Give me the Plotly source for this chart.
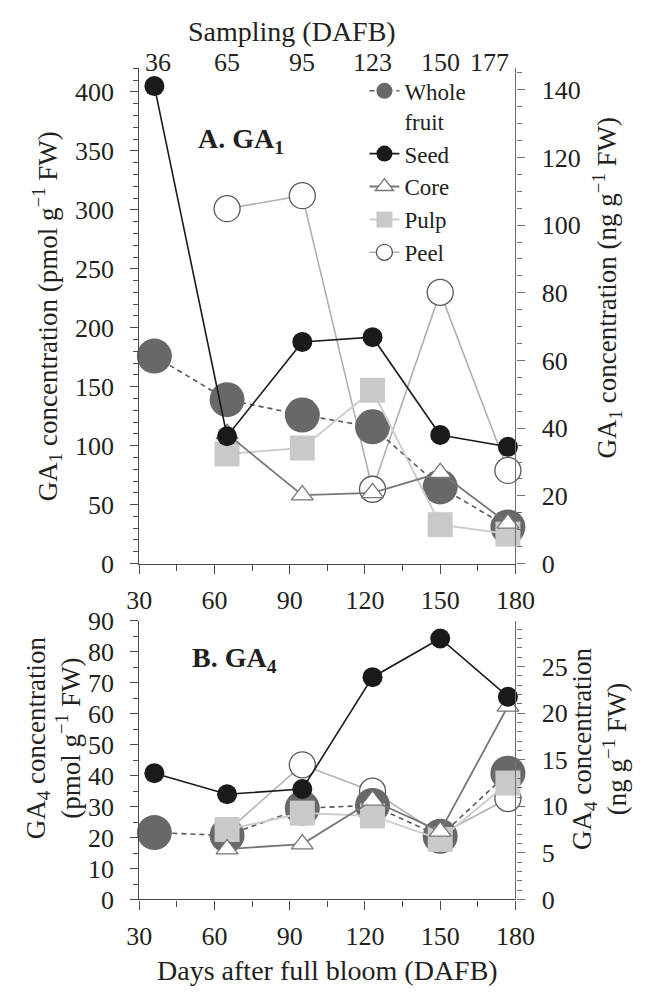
import plotly.graph_objects as go

# ---------------- data ----------------
days = [36, 65, 95, 123, 150, 177]          # all sampling dates
days_tissue = [65, 95, 123, 150, 177]       # tissue sampling dates
sampling_labels = ["36", "65", "95", "123", "150", "177"]

# GA1 (pmol g-1 FW)
ga1_whole = [176, 139, 126, 116, 65, 31]
ga1_seed = [405, 108, 188, 192, 109, 99]
ga1_core = [110, 58, 60, 77, 34]
ga1_pulp = [93, 98, 147, 33, 25]
ga1_peel = [301, 312, 63, 230, 79]

# GA4 (pmol g-1 FW)
ga4_whole = [21.6, 20.7, 29.5, 30.4, 20.4, 40.8]
ga4_seed = [40.8, 34.0, 35.7, 71.8, 84.3, 65.5]
ga4_core = [16.3, 17.9, 32.0, 22.0, 62.4]
ga4_pulp = [22.6, 27.9, 27.0, 19.4, 37.6]
ga4_peel = [22.0, 43.5, 35.0, 21.0, 32.6]

# conversion pmol -> ng (molecular weight / 1000)
GA1_MW = 0.3484
GA4_MW = 0.3324

FONT = "Liberation Serif, Times New Roman, Times, DejaVu Serif, serif"
TXT = "#231f20"
W, H = 657, 998

styles = {
    "Peel": dict(line=dict(color="#b0b0b0", width=1.6),
                 marker=dict(symbol="circle", size=26, color="white",
                             line=dict(color="#5a5a5a", width=1.3)), rank=5),
    "Whole<br>fruit": dict(line=dict(color="#58595b", width=1.6, dash="5px,4px"),
                           marker=dict(symbol="circle", size=35, color="#67686a",
                                       line=dict(width=0)), rank=1),
    "Pulp": dict(line=dict(color="#cdcdcd", width=2),
                 marker=dict(symbol="square", size=25, color="#c8c9cb",
                             line=dict(width=0)), rank=4),
    "Core": dict(line=dict(color="#76777a", width=1.8),
                 marker=dict(symbol="triangle-up", size=19, color="white",
                             line=dict(color="#76777a", width=1.3)), rank=3),
    "Seed": dict(line=dict(color="#1a1a1a", width=1.6),
                 marker=dict(symbol="circle", size=20, color="#1a1a1a",
                             line=dict(width=0)), rank=2),
}

panel_a = [("Peel", days_tissue, ga1_peel), ("Whole<br>fruit", days, ga1_whole),
           ("Pulp", days_tissue, ga1_pulp), ("Core", days_tissue, ga1_core),
           ("Seed", days, ga1_seed)]
panel_b = [("Peel", days_tissue, ga4_peel), ("Whole<br>fruit", days, ga4_whole),
           ("Pulp", days_tissue, ga4_pulp), ("Core", days_tissue, ga4_core),
           ("Seed", days, ga4_seed)]

fig = go.Figure()
for name, xs, ys in panel_a:
    st = styles[name]
    fig.add_trace(go.Scatter(x=xs, y=ys, mode="lines+markers", name=name,
                             line=st["line"], marker=st["marker"],
                             legendrank=st["rank"], xaxis="x", yaxis="y",
                             cliponaxis=False))
for name, xs, ys in panel_b:
    st = styles[name]
    fig.add_trace(go.Scatter(x=xs, y=ys, mode="lines+markers", name=name,
                             line=st["line"], marker=st["marker"],
                             showlegend=False, xaxis="x2", yaxis="y2",
                             cliponaxis=False))

# transparent traces that carry the ng-based right axes
fig.add_trace(go.Scatter(x=days, y=[v * GA1_MW for v in ga1_seed], mode="markers",
                         marker=dict(opacity=0), showlegend=False, hoverinfo="skip",
                         xaxis="x", yaxis="y3"))
fig.add_trace(go.Scatter(x=days, y=[v * GA4_MW for v in ga4_seed], mode="markers",
                         marker=dict(opacity=0), showlegend=False, hoverinfo="skip",
                         xaxis="x2", yaxis="y4"))

px = lambda p: p / W
py = lambda p: 1 - p / H

x_dom = [px(133), px(529)]
ya_dom = [py(566), py(56)]
yb_dom = [py(912), py(625)]

AX = "#4a4a4a"
AX_R = "#6d6e70"
tickfont = dict(family=FONT, size=26, color=TXT)

def xaxis(anchor, dom, title=None):
    d = dict(domain=dom, range=[30, 180], tickmode="array",
             tickvals=[30, 60, 90, 120, 150, 180], anchor=anchor,
             showline=True, linecolor=AX, linewidth=1.3, ticks="outside",
             ticklen=9, tickwidth=1.3, tickcolor=AX, showgrid=False, zeroline=False,
             tickfont=tickfont, ticklabelstandoff=4,
             minor=dict(dtick=15, tick0=30, ticks="outside", ticklen=6,
                        tickwidth=1.2, tickcolor=AX, showgrid=False))
    if title:
        d["title"] = dict(text=title, font=dict(family=FONT, size=28, color=TXT),
                          standoff=10)
    return d

def yaxis(dom, rng, dtick, minor, anchor, side="left", overlay=None):
    col = AX if side == "left" else AX_R
    d = dict(domain=dom, range=rng, dtick=dtick, tick0=0, anchor=anchor, side=side,
             showline=True, linecolor=col, linewidth=1.3, ticks="outside",
             ticklen=8, tickwidth=1.3, tickcolor=col, showgrid=False, zeroline=False,
             tickfont=tickfont, ticklabelstandoff=11 if side == "left" else 12,
             minor=dict(dtick=minor, tick0=0, ticks="outside", ticklen=5,
                        tickwidth=1.1, tickcolor=col, showgrid=False))
    if overlay:
        d["overlaying"] = overlay
    return d

fig.update_layout(
    width=W, height=H,
    margin=dict(l=0, r=0, t=0, b=0),
    paper_bgcolor="white", plot_bgcolor="white",
    font=dict(family=FONT, color=TXT),
    xaxis=xaxis("y", x_dom),
    xaxis2=xaxis("y2", x_dom, "Days after full bloom (DAFB)"),
    yaxis=yaxis(ya_dom, [0, 420], 50, 10, "x"),
    yaxis2=yaxis(yb_dom, [0, 90], 10, 5, "x2"),
    yaxis3=yaxis(ya_dom, [0, 420 * GA1_MW], 20, 5, "x", side="right", overlay="y"),
    yaxis4=yaxis(yb_dom, [0, 90 * GA4_MW], 5, 1, "x2", side="right", overlay="y2"),
    showlegend=True,
    legend=dict(x=px(370), y=py(57), xanchor="left", yanchor="top",
                bgcolor="rgba(0,0,0,0)", font=dict(family=FONT, size=23, color=TXT),
                tracegroupgap=0, valign="top", traceorder="normal"),
)

ann = []
# top sampling axis
ann.append(dict(text="Sampling (DAFB)", x=px(294), y=py(18), xref="paper", yref="paper",
                xanchor="center", yanchor="middle",
                showarrow=False, font=dict(family=FONT, size=28, color=TXT)))
for d, lab in zip(days, sampling_labels):
    ann.append(dict(text=lab, x=d, y=py(50), xref="x", yref="paper", showarrow=False,
                    xanchor="center", yanchor="middle",
                    xshift=-18 if d == days[-1] else (4 if d == days[0] else 0),
                    font=dict(family=FONT, size=26, color=TXT)))
# panel labels
ann.append(dict(text="<b>A. GA<sub>1</sub></b>", x=px(193), y=py(130), xref="paper",
                yref="paper", xanchor="left", yanchor="middle", showarrow=False,
                font=dict(family=FONT, size=28, color=TXT)))
ann.append(dict(text="<b>B. GA<sub>4</sub></b>", x=px(186), y=py(665), xref="paper",
                yref="paper", xanchor="left", yanchor="middle", showarrow=False,
                font=dict(family=FONT, size=28, color=TXT)))
# y-axis titles
yt = dict(xref="paper", yref="paper", showarrow=False, textangle=-90,
          xanchor="center", yanchor="middle",
          font=dict(family=FONT, size=27, color=TXT))
ann.append(dict(text="GA<sub>1</sub> concentration (pmol g<sup>−1</sup> FW)",
                x=px(36), y=py(311), **yt))
ann.append(dict(text="GA<sub>1</sub> concentration (ng g<sup>−1</sup> FW)",
                x=px(625), y=py(282), **yt))
ann.append(dict(text="GA<sub>4</sub> concentration<br>(pmol g<sup>−1</sup> FW)",
                x=px(42), y=py(745), **yt))
ann.append(dict(text="GA<sub>4</sub> concentration<br>(ng g<sup>−1</sup> FW)",
                x=px(617), y=py(757), **yt))
fig.update_layout(annotations=ann)

fig.write_html("out.html")
